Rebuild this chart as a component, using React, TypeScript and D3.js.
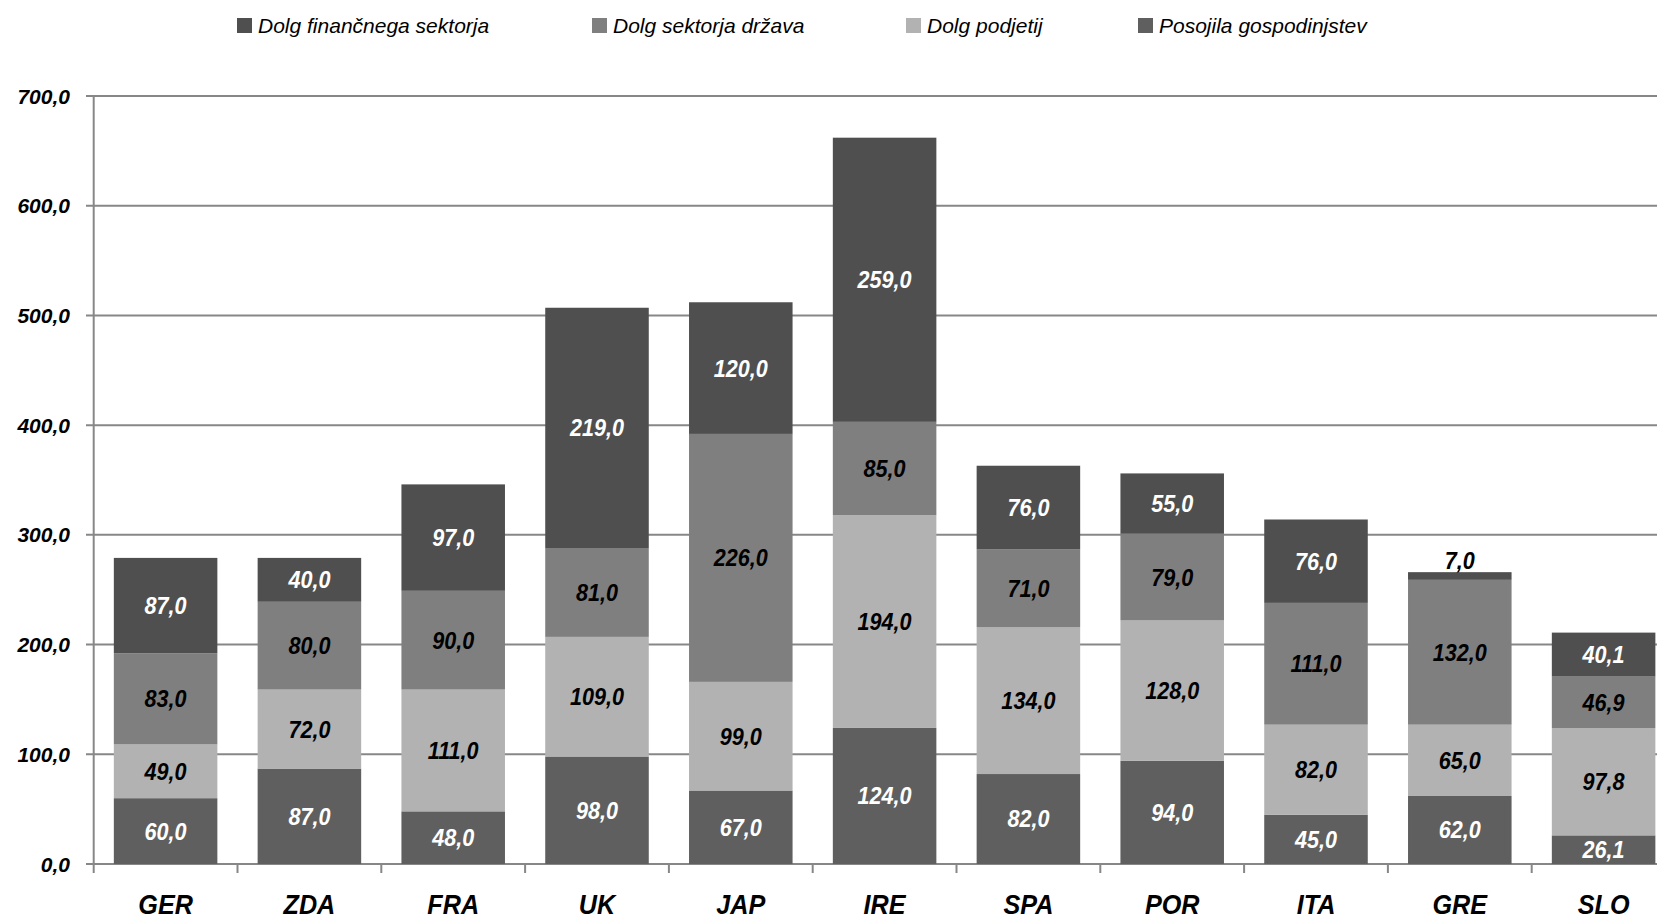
import React from "react";
import * as d3 from "d3";

// Countries on the x axis
const countries = ["GER", "ZDA", "FRA", "UK", "JAP", "IRE", "SPA", "POR", "ITA", "GRE", "SLO"];

// Stacked components, bottom to top
const household = [60, 87, 48, 98, 67, 124, 82, 94, 45, 62, 26.1];
const corporate = [49, 72, 111, 109, 99, 194, 134, 128, 82, 65, 97.8];
const government = [83, 80, 90, 81, 226, 85, 71, 79, 111, 132, 46.9];
const financial = [87, 40, 97, 219, 120, 259, 76, 55, 76, 7, 40.1];

const seriesNames = [
  "Posojila gospodinjstev",
  "Dolg podjetij",
  "Dolg sektorja država",
  "Dolg finančnega sektorja",
];
const seriesValues = [household, corporate, government, financial];
const seriesColors = ["#5f5f5f", "#b2b2b2", "#7f7f7f", "#4f4f4f"];
const labelColors = ["#ffffff", "#000000", "#000000", "#ffffff"];

// Legend order as shown at the top
const legendOrder = [3, 2, 1, 0];
const legendX = [237, 592, 906, 1138];

const yTicks = [0, 100, 200, 300, 400, 500, 600, 700];

const W = 1657;
const H = 916;
const FONT = "'Liberation Sans', Arial, Helvetica, sans-serif";

const fmt = (v: number) => d3.format(".1f")(v).replace(".", ",");

export default function App() {
  const left = 93.7;
  const step = 143.8;
  const right = left + countries.length * step;
  const y0 = 864;
  const yTop = 96;

  const x = d3
    .scaleBand<string>()
    .domain(countries)
    .range([left, right])
    .paddingInner(0.28)
    .paddingOuter(0.14);
  const y = d3.scaleLinear().domain([0, 700]).range([y0, yTop]);

  const rows = countries.map((c, i) => {
    const row: any = { country: c };
    seriesNames.forEach((s, k) => (row[s] = seriesValues[k][i]));
    return row;
  });
  const stacked = d3.stack<any>().keys(seriesNames)(rows);
  const totals = countries.map((_, i) =>
    seriesValues.reduce((acc, s) => acc + s[i], 0)
  );

  return (
    <svg
      width={W}
      height={H}
      style={{ position: "absolute", left: 0, top: 0, background: "#fff" }}
      fontFamily={FONT}
    >
      {/* gridlines and y ticks */}
      {yTicks.map((t) => (
        <g key={t}>
          <line x1={86} x2={right} y1={y(t)} y2={y(t)} stroke="#878787" strokeWidth={2} />
          <text
            x={70}
            y={y(t)}
            dy="0.36em"
            textAnchor="end"
            fontSize={21}
            fontWeight="bold"
            fontStyle="italic"
            fill="#000"
          >
            {fmt(t)}
          </text>
        </g>
      ))}
      {/* y axis line */}
      <line x1={left} x2={left} y1={yTop} y2={y0} stroke="#878787" strokeWidth={2} />
      {/* x axis ticks at band boundaries */}
      {d3.range(countries.length + 1).map((i) => (
        <line
          key={i}
          x1={left + i * step}
          x2={left + i * step}
          y1={y0}
          y2={y0 + 9}
          stroke="#878787"
          strokeWidth={2}
        />
      ))}

      {/* stacked bars */}
      {stacked.map((layer, k) => (
        <g key={layer.key}>
          {layer.map((d, i) => (
            <rect
              key={i}
              x={x(countries[i])}
              width={x.bandwidth()}
              y={y(d[1])}
              height={y(d[0]) - y(d[1])}
              fill={seriesColors[k]}
            />
          ))}
        </g>
      ))}

      {/* value labels */}
      {stacked.map((layer, k) => (
        <g key={layer.key + "-lbl"}>
          {layer.map((d, i) => {
            const h = y(d[0]) - y(d[1]);
            const cx = (x(countries[i]) as number) + x.bandwidth() / 2;
            const small = h < 22;
            const cy = small ? y(totals[i]) - 12 : (y(d[0]) + y(d[1])) / 2;
            return (
              <g key={i} transform={`translate(${cx},${cy}) scale(0.92,1)`}>
                <text
                  textAnchor="middle"
                  dy="0.36em"
                  fontSize={23.5}
                  fontWeight="bold"
                  fontStyle="italic"
                  fill={small ? "#000" : labelColors[k]}
                >
                  {fmt(seriesValues[k][i])}
                </text>
              </g>
            );
          })}
        </g>
      ))}

      {/* category labels */}
      {countries.map((c) => (
        <g
          key={c}
          transform={`translate(${(x(c) as number) + x.bandwidth() / 2},914) scale(0.9,1)`}
        >
          <text textAnchor="middle" fontSize={28} fontWeight="bold" fontStyle="italic" fill="#000">
            {c}
          </text>
        </g>
      ))}

      {/* legend */}
      {legendOrder.map((k, j) => (
        <g key={k} transform={`translate(${legendX[j]},18)`}>
          <rect x={0} y={0} width={15} height={15} fill={seriesColors[k]} />
          <text x={21} y={7.5} dy="0.36em" fontSize={21} fontStyle="italic" fill="#000">
            {seriesNames[k]}
          </text>
        </g>
      ))}
    </svg>
  );
}
